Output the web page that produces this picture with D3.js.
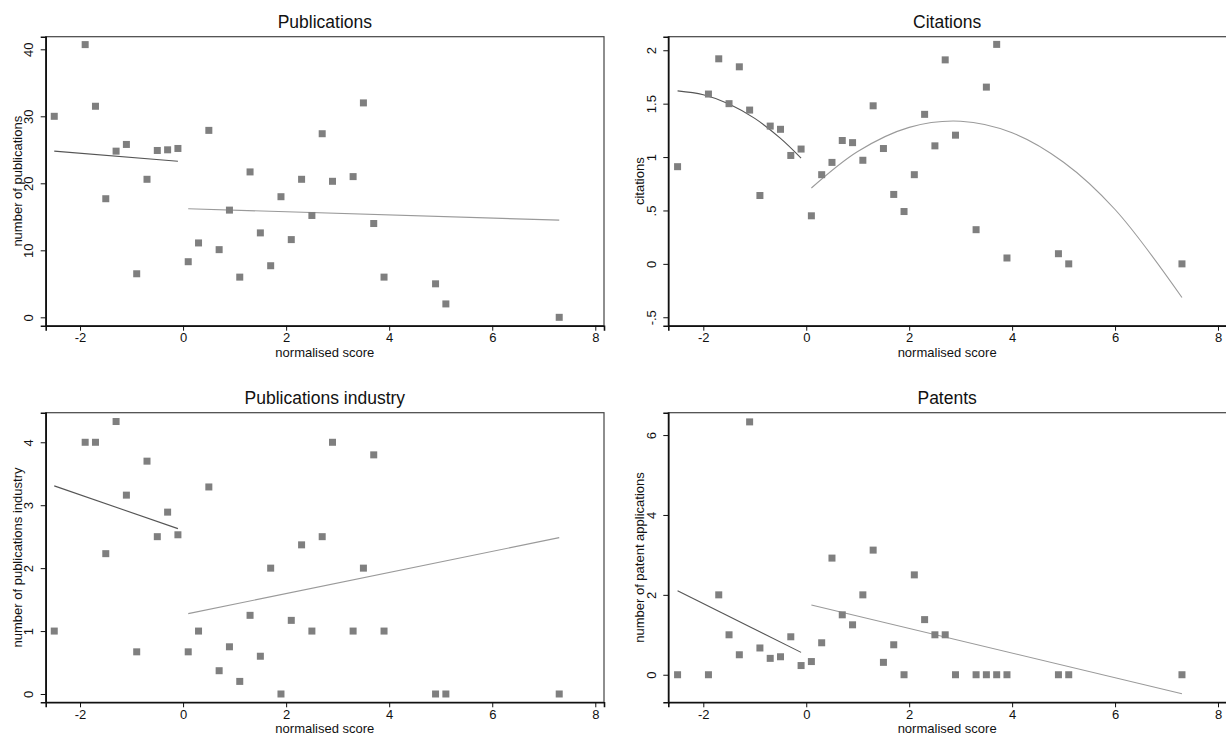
<!DOCTYPE html>
<html>
<head>
<meta charset="utf-8">
<script src="https://cdn.jsdelivr.net/npm/d3@7"></script>
<style>
  html, body { margin: 0; padding: 0; background: #fff; }
  svg { display: block; font-family: "Liberation Sans", Arial, sans-serif; }
</style>
</head>
<body>
<svg id="chart" width="1226" height="738"></svg>
<script>
// ---- data ----
const scores = [-2.5, -1.9, -1.7, -1.5, -1.3, -1.1, -0.9, -0.7, -0.5, -0.3, -0.1,
                0.1, 0.3, 0.5, 0.7, 0.9, 1.1, 1.3, 1.5, 1.7, 1.9, 2.1, 2.3, 2.5,
                2.7, 2.9, 3.3, 3.5, 3.7, 3.9, 4.9, 5.1, 7.3];

const publications = [30.0, 40.7, 31.5, 17.7, 24.8, 25.8, 6.5, 20.6, 24.9, 25.0, 25.2,
                      8.3, 11.1, 27.9, 10.1, 16.0, 6.0, 21.7, 12.6, 7.7, 18.0, 11.6, 20.6, 15.2,
                      27.4, 20.3, 21.0, 32.0, 14.0, 6.0, 5.0, 2.0, 0.0];

const citations = [0.91, 1.59, 1.92, 1.50, 1.845, 1.44, 0.64, 1.29, 1.26, 1.015, 1.075,
                   0.45, 0.835, 0.95, 1.155, 1.135, 0.97, 1.48, 1.08, 0.65, 0.49, 0.835, 1.40, 1.105,
                   1.91, 1.205, 0.32, 1.655, 2.055, 0.055, 0.095, 0.0, 0.0];

const pubIndustry = [1.0, 4.0, 4.0, 2.23, 4.33, 3.16, 0.67, 3.70, 2.50, 2.89, 2.53,
                     0.67, 1.0, 3.29, 0.37, 0.75, 0.20, 1.25, 0.60, 2.0, 0.0, 1.17, 2.37, 1.0,
                     2.5, 4.0, 1.0, 2.0, 3.80, 1.0, 0.0, 0.0, 0.0];

const patents = [0.0, 0.0, 2.0, 1.0, 0.5, 6.33, 0.67, 0.41, 0.45, 0.95, 0.23,
                 0.33, 0.8, 2.92, 1.5, 1.25, 2.0, 3.12, 0.31, 0.75, 0.0, 2.5, 1.38, 1.0,
                 1.0, 0.0, 0.0, 0.0, 0.0, 0.0, 0.0, 0.0, 0.0];

// fitted lines
const pubFitLeft  = [[-2.5, 24.8], [-0.1, 23.3]];
const pubFitRight = [[0.1, 16.2], [7.3, 14.5]];
const citFitLeft  = [[-2.5, 1.620], [-2.0, 1.584], [-1.5, 1.498], [-1.0, 1.362], [-0.5, 1.175], [-0.1, 0.99]];
const citFitRight = [[0.1, 0.71], [1, 1.052], [2, 1.278], [3, 1.336], [4, 1.228], [5, 0.952], [6, 0.509], [7.3, -0.315]];
const indFitLeft  = [[-2.5, 3.307], [-0.1, 2.628]];
const indFitRight = [[0.1, 1.277], [7.3, 2.485]];
const patFitLeft  = [[-2.5, 2.10], [-0.1, 0.56]];
const patFitRight = [[0.1, 1.745], [7.3, -0.475]];

// axis tick values and labels
const xTicks = [-2, 0, 2, 4, 6, 8];
const pubTicks = [0, 10, 20, 30, 40];
const citTicks = [-0.5, 0, 0.5, 1, 1.5, 2];
const citTickLabels = ["-.5", "0", ".5", "1", "1.5", "2"];
const indTicks = [0, 1, 2, 3, 4];
const patTicks = [0, 2, 4, 6];

const titles = ["Publications", "Citations", "Publications industry", "Patents"];
const yLabels = ["number of publications", "citations", "number of publications industry", "number of patent applications"];
const xLabel = "normalised score";

// ---- panels ----
const panels = [
  { title: titles[0], ylab: yLabels[0], y: publications, fitL: pubFitLeft, fitR: pubFitRight, curve: false,
    xDom: [-2.666, 8.169], yDom: [-1.25, 41.88], yTicks: pubTicks, yFmt: d => String(d),
    box: { l: 45.7, r: 604, t: 36.7, b: 325.7 } },
  { title: titles[1], ylab: yLabels[1], y: citations, fitL: citFitLeft, fitR: citFitRight, curve: true,
    xDom: [-2.68, 8.175], yDom: [-0.579, 2.127], yTicks: citTicks, yFmt: (d, i) => citTickLabels[i],
    box: { l: 668.3, r: 1227, t: 36.7, b: 325.7 } },
  { title: titles[2], ylab: yLabels[2], y: pubIndustry, fitL: indFitLeft, fitR: indFitRight, curve: false,
    xDom: [-2.666, 8.169], yDom: [-0.132, 4.47], yTicks: indTicks, yFmt: d => String(d),
    box: { l: 45.7, r: 604, t: 412.7, b: 702.3 } },
  { title: titles[3], ylab: yLabels[3], y: patents, fitL: patFitLeft, fitR: patFitRight, curve: false,
    xDom: [-2.68, 8.175], yDom: [-0.69, 6.56], yTicks: patTicks, yFmt: d => String(d),
    box: { l: 668.3, r: 1227, t: 412.7, b: 702.3 } }
];

const svg = d3.select("#chart");
const markerColor = "#7f7f7f";
const msize = 7;

panels.forEach(p => {
  const b = p.box;
  const x = d3.scaleLinear().domain(p.xDom).range([b.l, b.r]);
  const y = d3.scaleLinear().domain(p.yDom).range([b.b, b.t]);
  const g = svg.append("g");
  const cx = (b.l + b.r) / 2 - (b.r > 1220 ? 0.5 : 0);

  // frame (top and right)
  g.append("rect")
    .attr("x", b.l).attr("y", b.t)
    .attr("width", b.r - b.l).attr("height", b.b - b.t)
    .attr("fill", "none").attr("stroke", "#444").attr("stroke-width", 1.2);

  // title
  g.append("text")
    .attr("x", cx)
    .attr("y", b.t - 8.5)
    .attr("text-anchor", "middle")
    .attr("font-size", 17.5)
    .attr("fill", "#111")
    .text(p.title);

  // x axis
  const xAxis = d3.axisBottom(x).tickValues(xTicks).tickSize(5).tickPadding(2.5).tickFormat(d => String(d));
  const gx = g.append("g").attr("transform", `translate(0,${b.b})`).call(xAxis);
  gx.select(".domain").attr("stroke", "#111").attr("stroke-width", 1.6);
  gx.selectAll(".tick line").attr("stroke", "#111").attr("stroke-width", 1);
  gx.selectAll(".tick text").attr("font-size", 13).attr("fill", "#111")
    .attr("font-family", "Liberation Sans, Arial, sans-serif");

  // y axis with rotated tick labels
  const yAxis = d3.axisLeft(y).tickValues(p.yTicks).tickSize(5).tickFormat(p.yFmt);
  const gy = g.append("g").attr("transform", `translate(${b.l},0)`).call(yAxis);
  gy.select(".domain").attr("stroke", "#111").attr("stroke-width", 1.6);
  gy.selectAll(".tick line").attr("stroke", "#111").attr("stroke-width", 1);
  gy.selectAll(".tick text")
    .attr("font-size", 13).attr("fill", "#111")
    .attr("font-family", "Liberation Sans, Arial, sans-serif")
    .attr("x", null).attr("dy", null)
    .attr("text-anchor", "middle")
    .attr("transform", "translate(-12.7,0) rotate(-90)");

  // axis titles
  g.append("text")
    .attr("transform", `translate(${b.l - 24},${(b.t + b.b) / 2}) rotate(-90)`)
    .attr("text-anchor", "middle")
    .attr("font-size", 13).attr("fill", "#111")
    .text(p.ylab);
  g.append("text")
    .attr("x", cx)
    .attr("y", b.b + 31)
    .attr("text-anchor", "middle")
    .attr("font-size", 13).attr("fill", "#111")
    .text(xLabel);

  // fitted lines
  const line = d3.line().x(d => x(d[0])).y(d => y(d[1]));
  if (p.curve) line.curve(d3.curveCatmullRom.alpha(0.5));
  g.append("path").datum(p.fitL).attr("d", line)
    .attr("fill", "none").attr("stroke", "#555").attr("stroke-width", 1.1);
  g.append("path").datum(p.fitR).attr("d", line)
    .attr("fill", "none").attr("stroke", "#9a9a9a").attr("stroke-width", 1.1);

  // markers
  g.selectAll("rect.pt").data(scores.map((s, i) => [s, p.y[i]])).enter()
    .append("rect").attr("class", "pt")
    .attr("x", d => x(d[0]) - msize / 2)
    .attr("y", d => y(d[1]) - msize / 2)
    .attr("width", msize).attr("height", msize)
    .attr("fill", markerColor);
});
</script>
</body>
</html>
